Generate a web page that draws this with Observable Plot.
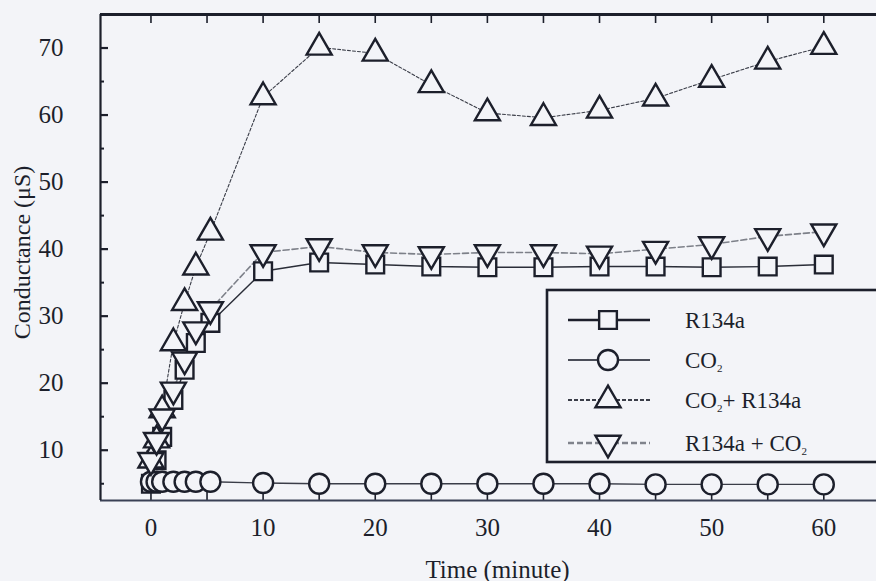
<!DOCTYPE html>
<html><head><meta charset="utf-8">
<script src="https://cdn.jsdelivr.net/npm/d3@7"></script>
<script src="https://cdn.jsdelivr.net/npm/@observablehq/plot@0.6"></script>
<style>
html,body{margin:0;padding:0;background:#f1f3f7;overflow:hidden}
#chart{position:relative;width:876px;height:581px}
</style></head><body><div id="chart"></div>
<script>
// ---- data ----
const time      = [0, 0.5, 1, 2, 3, 4, 5.3, 10, 15, 20, 25, 30, 35, 40, 45, 50, 55, 60];
const r134a     = [5.0, 8.5, 12.0, 17.5, 22.0, 26.0, 29.0, 36.7, 38.0, 37.7, 37.4, 37.3, 37.3, 37.4, 37.4, 37.3, 37.4, 37.7];
const co2       = [5.3, 5.3, 5.3, 5.3, 5.3, 5.3, 5.3, 5.1, 5.0, 5.0, 5.0, 5.0, 5.0, 5.0, 4.9, 4.9, 4.9, 4.9];
const co2r134a  = [8.5, 11.5, 16.0, 26.0, 32.0, 37.3, 42.5, 62.7, 70.1, 69.2, 64.5, 60.3, 59.6, 60.7, 62.5, 65.3, 68.0, 70.2];
const r134aco2  = [8.5, 11.5, 15.0, 19.0, 23.5, 28.0, 31.0, 39.5, 40.4, 39.5, 39.2, 39.5, 39.5, 39.3, 40.0, 40.7, 41.9, 42.6];
const seriesNames = ["R134a", "CO₂", "CO₂+ R134a", "R134a + CO₂"];
const yTicks = [10, 20, 30, 40, 50, 60, 70];
const yMinor = [5, 15, 25, 35, 45, 55, 65];
const xTicks = [0, 10, 20, 30, 40, 50, 60];
const xFineTicks = [0, 5, 10, 15, 20, 25, 30, 35, 40, 45, 50, 55, 60];
const xDomain = [-4.5, 64.7];
const yDomain = [2.5, 75];

// ---- styling ----
const ink = "#1c1f2b";
const paper = "#f3f4f8";
const font = "'Liberation Serif','Times New Roman',serif";
const R = 10;

const invTriangle = {
  draw(context, size) {
    const s3 = Math.sqrt(3);
    const y = -Math.sqrt(size / (s3 * 3));
    context.moveTo(0, -y * 2);
    context.lineTo(-s3 * y, y);
    context.lineTo(s3 * y, y);
    context.closePath();
  }
};

const allSeries = [r134a, co2, co2r134a, r134aco2];
const rows = [];
allSeries.forEach((vals, si) => vals.forEach((v, i) => rows.push({t: time[i], v, s: seriesNames[si]})));
const of = name => rows.filter(d => d.s === name);

const lineStyles = [
  {stroke: "#2a2d38", strokeWidth: 1.4},
  {stroke: "#3a3d48", strokeWidth: 1.4},
  {stroke: "#3a3d48", strokeWidth: 1.1, strokeDasharray: "3,2"},
  {stroke: "#7d8089", strokeWidth: 1.6, strokeDasharray: "6,3"}
];
const symbols = ["square", "circle", "triangle", invTriangle];
const sizes = [R, R, 9.3, 9.3];

const marks = [];
seriesNames.forEach((n, i) => marks.push(Plot.line(of(n), {x: "t", y: "v", ...lineStyles[i]})));
seriesNames.forEach((n, i) => marks.push(Plot.dot(of(n), {x: "t", y: "v", symbol: () => symbols[i], r: sizes[i], stroke: ink, strokeWidth: 2.4, fill: paper})));

const plot = Plot.plot({
  width: 876, height: 581,
  marginLeft: 100, marginRight: 0, marginTop: 14, marginBottom: 81,
  style: {background: paper, fontFamily: font, fontSize: "24px", color: ink},
  x: {domain: xDomain},
  y: {domain: yDomain},
  symbol: {type: "identity"},
  marks: [
    Plot.axisY({ticks: yTicks, tickSize: 0, tickPadding: 37, label: null, fontSize: 25}),
    Plot.axisX({ticks: xTicks, tickSize: 0, tickPadding: 18, label: null, fontSize: 25}),
    Plot.tickY(yTicks, {y: d => d, insetRight: 768, stroke: ink, strokeWidth: 2.2}),
    Plot.tickY(yMinor, {y: d => d, insetRight: 772, stroke: ink, strokeWidth: 2}),
    Plot.tickX(xFineTicks, {x: d => d, insetBottom: 477, stroke: ink, strokeWidth: 1.6}),
    Plot.tickX(xFineTicks, {x: d => d, insetTop: 477, stroke: ink, strokeWidth: 1.6}),
    ...marks,
    Plot.ruleY([yDomain[1]], {stroke: ink, strokeWidth: 3}),
    Plot.ruleY([yDomain[0]], {stroke: "#3a4055", strokeWidth: 2.2}),
    Plot.ruleX([xDomain[0]], {stroke: ink, strokeWidth: 2.2}),
    Plot.text(["Time (minute)"], {frameAnchor: "bottom", dy: 77, dx: 9, fontSize: 25, fill: ink}),
    Plot.text(["Conductance (μS)"], {frameAnchor: "left", textAnchor: "middle", dx: -78, dy: -5, rotate: -90, fontSize: 24, fill: ink})
  ]
});
document.getElementById("chart").appendChild(plot);

// ---- legend (drawn inside the plot's svg) ----
const svg = d3.select(plot);
const lg = svg.append("g").attr("font-family", font).attr("font-size", 23).attr("fill", ink).attr("text-anchor", "start");
lg.append("rect").attr("x", 547).attr("y", 290).attr("width", 345).attr("height", 172)
  .attr("fill", paper).attr("stroke", ink).attr("stroke-width", 2.6);
const rowY = [320, 360, 400, 443];
const legendLine = [
  {stroke: ink, w: 2.6, dash: null},
  {stroke: "#4a4d58", w: 2.2, dash: null},
  {stroke: "#3a3d48", w: 2, dash: "4,2"},
  {stroke: "#80838c", w: 2.4, dash: "6,3"}
];
seriesNames.forEach((n, i) => {
  const y = rowY[i];
  const st = legendLine[i];
  lg.append("line").attr("x1", 568).attr("x2", 650).attr("y1", y).attr("y2", y)
    .attr("stroke", st.stroke).attr("stroke-width", st.w).attr("stroke-dasharray", st.dash);
  const symType = i === 0 ? d3.symbolSquare : i === 1 ? d3.symbolCircle : i === 2 ? d3.symbolTriangle : invTriangle;
  lg.append("path").attr("transform", `translate(608,${y})`)
    .attr("d", d3.symbol(symType, Math.PI * sizes[i] * sizes[i])())
    .attr("fill", paper).attr("stroke", ink).attr("stroke-width", 2.4);
  const t = lg.append("text").attr("x", 685).attr("y", y + 8);
  const parts = n.split("₂");
  parts.forEach((p, k) => {
    if (p) {
      const ts = t.append("tspan").text(p);
      if (k > 0) ts.attr("dy", -4);
    }
    if (k < parts.length - 1) t.append("tspan").text("2").attr("font-size", 11).attr("dy", 4);
  });
});
</script>
</body></html>
